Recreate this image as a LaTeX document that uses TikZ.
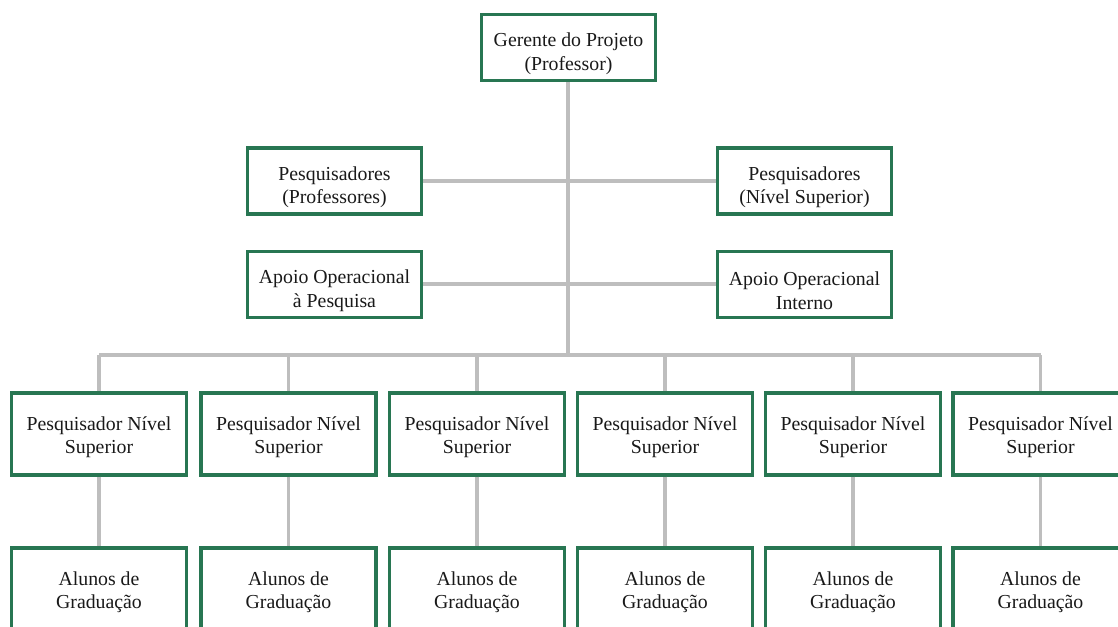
\documentclass[tikz,border=0pt]{standalone}
\usepackage{fontspec}
\setmainfont{Liberation Serif}
\definecolor{boxgreen}{RGB}{40,118,82}
\definecolor{linkgrey}{RGB}{190,190,190}
\definecolor{inkgrey}{RGB}{25,25,25}
% invisible strut that lowers a two-line label a little inside its box
\newcommand{\lowerby}[1]{\rule{0pt}{#1}}
\tikzset{
  orgbox/.style={draw=boxgreen, line width=3.2pt, fill=white, align=center,
    text=inkgrey, font=\fontsize{19.8}{23.5}\selectfont, inner sep=0pt},
  topbox/.style={orgbox, minimum width=174pt, minimum height=66pt},
  rowbox/.style={orgbox, minimum width=175pt, minimum height=82pt},
  link/.style={draw=linkgrey, line width=3.2pt}
}
\begin{document}
\begin{tikzpicture}[x=1pt,y=-1pt]
\clip (0,0) rectangle (1118,626);
\fill[white] (0,0) rectangle (1118,626);

% hub points on the central trunk and the lower bus
\coordinate (bus) at (568,355);

% links drawn first so the boxes sit on top
\foreach \i/\cx in {1/99,2/288.5,3/477,4/665,5/853,6/1040.5}{
  \coordinate (drop\i) at (\cx,355);
}
\draw[link] (568,82) coordinate (trunktop) -- (bus);
\draw[link] (drop1) -- (drop6);
\draw[link] (334.5,181) coordinate (pL) -- (804.5,181) coordinate (pR);
\draw[link] (334.5,284) coordinate (aL) -- (804.5,284) coordinate (aR);

% head of the project
\node[topbox] (gerente) at (568.5,47.5) {\lowerby{26pt}Gerente do Projeto\\(Professor)};

% staff attached to the trunk
\node[topbox] (pesqProf) at (334.5,181) {\lowerby{26pt}Pesquisadores\\(Professores)};
\node[topbox] (pesqSup) at (804.5,181) {\lowerby{26pt}Pesquisadores\\(Nível Superior)};
\node[topbox] (apoioPesq) at (334.5,284.5) {\lowerby{26pt}Apoio Operacional\\à Pesquisa};
\node[topbox] (apoioInt) at (804.5,284.5) {\lowerby{26pt}Apoio Operacional\\Interno};

% researchers and their undergraduate students
\foreach \i/\cx in {1/99,2/288.5,3/477,4/665,5/853,6/1040.5}{
  \node[rowbox] (pns\i) at (\cx,434) {\lowerby{20pt}Pesquisador Nível\\Superior};
  \node[rowbox] (alu\i) at (\cx,589) {\lowerby{20pt}Alunos de\\Graduação};
  \draw[link] (drop\i) -- (pns\i.north);
  \draw[link] (pns\i.south) -- (alu\i.north);
}
\end{tikzpicture}
\end{document}
